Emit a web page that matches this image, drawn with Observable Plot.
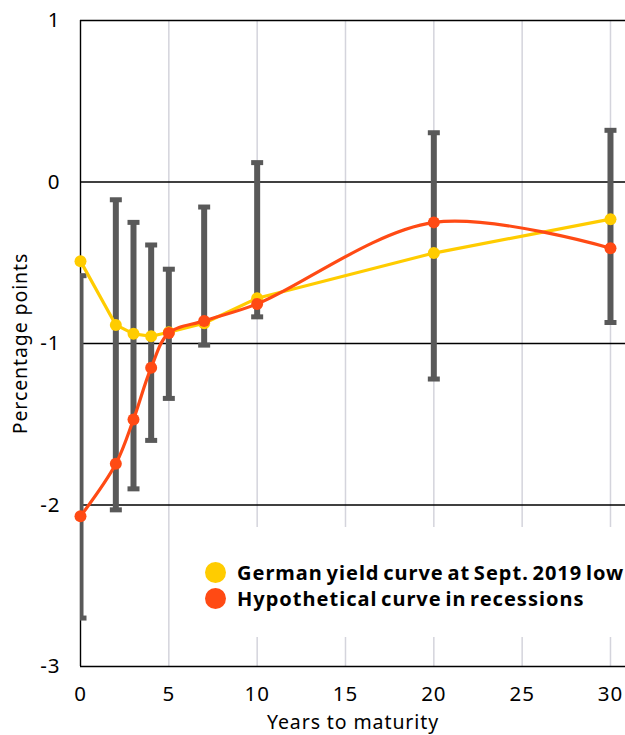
<!DOCTYPE html>
<html><head><meta charset="utf-8">
<script src="https://cdn.jsdelivr.net/npm/d3@7"></script>
<script src="https://cdn.jsdelivr.net/npm/@observablehq/plot@0.6"></script>
<style>
body{margin:0;background:#fff;}
#wrap{position:relative;width:625px;height:735px;overflow:hidden;}
.legend{position:absolute;left:195px;top:527px;width:430px;height:110px;background:#fff;font-family:"Noto Sans",sans-serif;font-weight:bold;font-size:20px;color:#000;}
.row{position:absolute;left:10px;height:26px;display:flex;align-items:center;white-space:nowrap;letter-spacing:1px;word-spacing:-2.5px;}
.sw{width:21px;height:21px;border-radius:50%;margin-right:11px;flex:none;}
</style></head>
<body><div id="wrap"></div>
<script>
const maturities = [0, 2, 3, 4, 5, 7, 10, 20, 30];
const germanYield = [-0.49, -0.885, -0.94, -0.955, -0.93, -0.875, -0.72, -0.44, -0.23];
const hypothetical = [-2.07, -1.745, -1.47, -1.15, -0.935, -0.86, -0.755, -0.25, -0.41];
const rangeHigh = [-0.58, -0.11, -0.25, -0.39, -0.54, -0.155, 0.12, 0.305, 0.32];
const rangeLow = [-2.70, -2.03, -1.90, -1.60, -1.34, -1.01, -0.835, -1.22, -0.87];
const yTicks = [-3, -2, -1, 0, 1];
const xTicks = [0, 5, 10, 15, 20, 25, 30];
const xGrid = [5, 10, 15, 20, 25, 30];
const seriesNames = ["German yield curve at Sept. 2019 low", "Hypothetical curve in recessions"];
const seriesColors = ["#ffcc00", "#ff4a14"];

const data = maturities.map((m, i) => ({m, g: germanYield[i], h: hypothetical[i], hi: rangeHigh[i], lo: rangeLow[i]}));
const capSymbol = {draw(ctx) { ctx.rect(-6, -2.5, 12, 5); }};
const font = '"Noto Sans", sans-serif';

const chart = Plot.plot({
  width: 625, height: 735,
  marginLeft: 80, marginRight: 0, marginTop: 20, marginBottom: 69,
  x: {domain: [0, 30.85]},
  y: {domain: [-3, 1]},
  style: {fontFamily: font, background: "#fff", letterSpacing: "0.9px"},
  marks: [
    Plot.ruleX(xGrid, {stroke: "#d4d4dc", strokeWidth: 1.5}),
    Plot.ruleY(yTicks, {stroke: "#000", strokeWidth: 1.4}),
    Plot.ruleX([0], {stroke: "#000", strokeWidth: 1.4}),
    Plot.ruleX(data, {x: "m", y1: "lo", y2: "hi", stroke: "#595959", strokeWidth: 6, clip: true}),
    Plot.dot(data, {x: "m", y: "hi", symbol: capSymbol, fill: "#595959", stroke: "none", clip: true}),
    Plot.dot(data, {x: "m", y: "lo", symbol: capSymbol, fill: "#595959", stroke: "none", clip: true}),
    Plot.line(data, {x: "m", y: "g", stroke: seriesColors[0], strokeWidth: 3.2}),
    Plot.dot(data, {x: "m", y: "g", r: 6, fill: seriesColors[0], stroke: "none"}),
    Plot.line(data, {x: "m", y: "h", stroke: seriesColors[1], strokeWidth: 3.2, curve: "catmull-rom"}),
    Plot.dot(data, {x: "m", y: "h", r: 6, fill: seriesColors[1], stroke: "none"}),
    Plot.axisY(yTicks, {tickSize: 0, tickPadding: 20, fontSize: 20.5, label: null, tickFormat: d => String(d)}),
    Plot.axisX(xTicks, {tickSize: 0, tickPadding: 20, fontSize: 20.5, label: null}),
    Plot.text(["Percentage points"], {frameAnchor: "left", textAnchor: "middle", dx: -60, rotate: -90, fontSize: 19.5, fill: "#000"}),
    Plot.text(["Years to maturity"], {frameAnchor: "bottom", dy: 62, fontSize: 19.5, fill: "#000"})
  ]
});
const wrap = document.getElementById("wrap");
wrap.appendChild(chart);
const leg = document.createElement("div");
leg.className = "legend";
seriesNames.forEach((name, i) => {
  const row = document.createElement("div");
  row.className = "row";
  row.style.top = (32 + i * 26) + "px";
  row.innerHTML = `<span class="sw" style="background:${seriesColors[i]}"></span><span>${name}</span>`;
  leg.appendChild(row);
});
wrap.appendChild(leg);
</script></body></html>
